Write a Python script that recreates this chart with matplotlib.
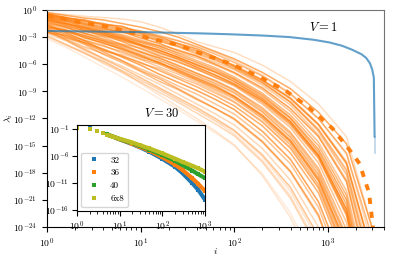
"""Eigenvalue spectra, V = 30 runs vs V = 1, with an inset of the size scan."""

import numpy as np
import matplotlib
matplotlib.use("Agg")
import matplotlib.pyplot as plt
from matplotlib.ticker import NullLocator

plt.rcParams.update({
    "font.family": "serif",
    "font.serif": ["cmr10"],
    "mathtext.fontset": "cm",
    "axes.formatter.use_mathtext": True,
    "font.size": 7,
})

# ── data (log10 of i and of lambda) ──────────────────────────────────────────
knot_logi = [0, 0.2, 0.4, 0.6, 0.8, 1.0, 1.2, 1.4, 1.6, 1.8, 2.0, 2.3, 2.6, 2.9, 3.2, 3.5]

runs_v30 = [
    [-0.3, -0.5, -0.7, -0.85, -1.0, -1.3, -1.9, -2.7, -3.5, -4.1, -4.7, -6.1, -7.9, -10.4, -14.0, -25],
    [-0.3, -0.6, -0.9, -1.1, -1.5, -1.9, -2.4, -3.0, -3.8, -4.6, -5.4, -6.9, -8.7, -11.3, -14.8, -25],
    [-0.5, -0.8, -1.3, -1.5, -2.0, -2.3, -2.9, -3.4, -4.1, -4.9, -5.8, -7.3, -9.3, -12.0, -15.9, -26],
    [-0.4, -0.9, -1.1, -1.6, -1.8, -2.5, -3.0, -3.7, -4.3, -5.2, -6.2, -7.8, -9.8, -12.7, -17.0, -28],
    [-0.9, -1.2, -1.5, -2.0, -2.5, -2.8, -3.5, -4.0, -4.8, -5.5, -6.5, -8.1, -10.2, -13.2, -17.8, -30],
    [-0.7, -1.0, -1.6, -2.1, -2.4, -3.1, -3.7, -4.5, -5.1, -6.0, -6.9, -8.6, -10.9, -14.0, -19.0, -32],
    [-1.2, -1.5, -1.9, -2.4, -2.9, -3.5, -4.0, -4.8, -5.6, -6.4, -7.4, -9.2, -11.6, -15.0, -20.5, -34],
    [-1.0, -1.5, -2.0, -2.6, -3.1, -3.8, -4.5, -5.2, -6.1, -6.9, -7.9, -9.8, -12.3, -16.0, -22.0, -36],
    [-1.5, -1.9, -2.6, -3.0, -3.8, -4.2, -5.0, -5.8, -6.5, -7.5, -8.4, -10.4, -13.0, -16.9, -23.5, -38],
    [-0.8, -1.4, -2.2, -2.7, -3.5, -4.3, -5.1, -5.7, -6.6, -7.4, -8.3, -10.2, -12.7, -16.4, -22.7, -37],
    [-2.0, -2.3, -2.8, -3.4, -3.9, -4.7, -5.3, -6.2, -7.0, -7.9, -8.9, -11.0, -13.7, -17.8, -25.0, -40],
    [-1.8, -2.4, -3.0, -3.7, -4.3, -5.0, -5.9, -6.6, -7.5, -8.4, -9.5, -11.6, -14.4, -18.6, -26.0, -42],
    [-1.3, -2.0, -2.5, -3.3, -4.0, -4.6, -5.5, -6.4, -7.2, -8.1, -9.1, -11.2, -14.0, -18.1, -25.5, -41],
    [-2.5, -2.8, -3.4, -4.0, -4.6, -5.4, -6.0, -6.9, -7.8, -8.8, -9.8, -12.0, -14.9, -19.3, -27.0, -44],
    [-0.6, -1.1, -1.7, -2.3, -2.8, -3.4, -4.0, -4.7, -5.3, -6.1, -7.0, -8.8, -11.2, -14.6, -20.0, -33],
    [-2.2, -2.9, -3.6, -4.3, -5.1, -5.8, -6.7, -7.6, -8.5, -9.5, -10.6, -12.8, -15.8, -20.2, -28.0, -46],
    [-2.4, -3.2, -4.1, -4.8, -5.6, -6.5, -7.4, -8.4, -9.3, -10.4, -11.5, -13.9, -17.0, -21.8, -30.0, -48],
    [-1.6, -2.5, -3.4, -4.4, -5.2, -6.1, -7.1, -8.0, -8.9, -9.9, -11.0, -13.4, -16.5, -21.2, -29.0, -47],
    [-2.1, -3.0, -3.8, -4.9, -5.8, -6.8, -7.9, -8.8, -9.9, -10.9, -12.1, -14.6, -17.9, -22.8, -31.0, -50],
    [-2.6, -3.4, -4.4, -5.3, -6.2, -7.2, -8.2, -9.3, -10.4, -11.5, -12.7, -15.3, -18.8, -24.0, -33.0, -52],
    [-2.0, -2.7, -3.7, -4.6, -5.6, -6.7, -7.6, -8.7, -9.8, -10.9, -12.0, -14.5, -17.8, -22.6, -31.0, -50],
    [-3.0, -3.9, -4.8, -5.7, -6.7, -7.7, -8.8, -9.9, -11.0, -12.2, -13.4, -16.2, -20.0, -25.5, -35.0, -55],
    [-2.3, -3.3, -4.3, -5.4, -6.4, -7.5, -8.6, -9.7, -10.8, -12.0, -13.3, -16.0, -19.6, -25.0, -34.0, -54],
    [-2.8, -3.8, -4.7, -5.9, -6.9, -8.0, -9.1, -10.2, -11.4, -12.6, -13.9, -16.8, -20.8, -26.5, -36.0, -56],
    [-3.2, -4.1, -5.2, -6.3, -7.4, -8.6, -9.8, -11.0, -12.3, -13.6, -15.0, -18.1, -22.4, -28.6, -39.0, -58],
    [-2.5, -3.3, -4.5, -5.6, -6.8, -8.1, -9.4, -10.7, -12.0, -13.4, -14.9, -18.3, -22.9, -29.5, -40.0, -60],
    [-0.5, -1.0, -1.4, -1.9, -2.3, -2.9, -3.3, -4.0, -4.6, -5.4, -6.3, -8.0, -10.2, -13.4, -18.2, -30],
    [-1.1, -1.7, -2.3, -2.8, -3.2, -3.9, -4.7, -5.4, -6.3, -7.2, -8.2, -10.0, -12.5, -16.2, -22.5, -37],
    [-2.4, -3.1, -3.6, -4.5, -5.0, -5.9, -6.5, -7.4, -8.2, -9.2, -10.2, -12.4, -15.3, -19.7, -27.5, -45],
    [-1.9, -2.2, -3.1, -3.6, -4.4, -5.2, -5.8, -6.8, -7.7, -8.6, -9.6, -11.8, -14.6, -18.9, -26.5, -43],
    [-2.9, -3.8, -4.8, -5.7, -6.7, -7.8, -8.8, -10.0, -11.1, -12.3, -13.7, -16.6, -20.5, -26.2, -36.0, -56],
    [-0.9, -1.3, -1.8, -2.2, -2.7, -3.3, -3.9, -4.4, -5.1, -5.8, -6.6, -8.3, -10.5, -13.8, -18.8, -31],
    [-0.6, -0.9, -1.2, -1.7, -2.1, -2.6, -3.2, -3.8, -4.5, -5.3, -6.1, -7.7, -9.7, -12.6, -16.8, -28],
    [-1.4, -1.8, -2.3, -2.9, -3.4, -4.0, -4.8, -5.5, -6.4, -7.2, -8.1, -10.0, -12.4, -16.1, -22.2, -36],
    [-0.8, -1.2, -1.9, -2.4, -3.0, -3.6, -4.2, -5.0, -5.8, -6.6, -7.6, -9.4, -11.9, -15.4, -21.0, -35],
    [-1.7, -2.3, -2.8, -3.5, -4.1, -4.9, -5.6, -6.4, -7.3, -8.2, -9.2, -11.3, -14.1, -18.3, -25.2, -41],
    [-0.4, -0.8, -1.2, -1.5, -1.9, -2.4, -2.8, -3.4, -4.0, -4.7, -5.6, -7.2, -9.2, -12.0, -15.8, -27],
    [-1.0, -1.6, -2.1, -2.5, -3.3, -3.9, -4.4, -5.3, -6.0, -6.8, -7.7, -9.6, -12.0, -15.7, -21.5, -35],
    [-2.2, -2.6, -3.3, -3.9, -4.8, -5.5, -6.3, -7.1, -8.0, -9.0, -10.1, -12.3, -15.2, -19.6, -27.2, -44],
    [-1.2, -1.9, -2.6, -3.2, -3.8, -4.6, -5.3, -6.1, -7.0, -7.8, -8.8, -10.8, -13.5, -17.5, -24.3, -39],
    [-0.7, -1.1, -1.5, -1.8, -2.2, -2.7, -3.4, -4.1, -4.9, -5.6, -6.4, -8.0, -10.1, -13.2, -17.6, -29],
    [-1.5, -2.2, -2.9, -3.4, -4.2, -5.1, -5.8, -6.7, -7.6, -8.5, -9.6, -11.7, -14.5, -18.8, -26.0, -42],
]
runs_alpha = [0.25, 0.65, 0.5, 0.75, 0.45, 0.7, 0.55, 0.8, 0.45, 0.6, 0.5, 0.7, 0.4,
              0.55, 0.45, 0.6, 0.45, 0.7, 0.5, 0.3, 0.55, 0.2, 0.45, 0.3, 0.15, 0.2,
              0.5, 0.7, 0.45, 0.6, 0.2, 0.4, 0.55, 0.5, 0.65, 0.45, 0.3, 0.6, 0.4,
              0.55, 0.35, 0.5]

# mean spectrum, V = 30 (dashed)
mean_logi = [0.0, 0.16, 0.31, 0.47, 0.63, 0.79, 0.93, 1.07, 1.25, 1.40, 1.63,
             1.95, 2.27, 2.56, 2.80, 3.05, 3.25, 3.34, 3.44, 3.475, 3.50]
mean_loglam = [-0.63, -0.92, -1.29, -1.55, -1.85, -2.21, -2.58, -3.06, -3.5, -3.87, -4.76,
               -5.9, -7.4, -9.0, -10.8, -13.1, -15.7, -17.0, -20.2, -23.3, -26.0]

# V = 1
v1_logi = [0.0, 1.0, 1.63, 1.95, 2.3, 2.59, 2.85, 3.02, 3.15, 3.26, 3.36, 3.41, 3.45,
           3.475, 3.492, 3.50]
v1_loglam = [-2.33, -2.45, -2.59, -2.69, -2.83, -3.0, -3.3, -3.6, -3.95, -4.4, -4.9,
             -5.3, -5.9, -6.6, -7.5, -14.0]
v1_tail = [-14.0, -15.8]

# inset: system sizes
ins_i = [1, 2, 3, 4, 5, 7, 10, 20, 30, 50, 100, 200, 300, 500, 700, 1000]
ins_labels = ["32", "36", "40", "6x8"]
ins_colors = ["C0", "C1", "C2", "C8"]
ins_loglam = [
    [-0.8, -0.8, -1.3, -1.7, -2.0, -2.4, -2.9, -3.8, -4.4, -5.2, -6.5, -8.0, -9.2, -11.0, -12.3, -14.1],
    [-0.8, -0.9, -1.3, -1.7, -2.0, -2.4, -2.9, -3.7, -4.3, -5.0, -6.2, -7.6, -8.6, -10.1, -11.2, -12.5],
    [-0.8, -0.9, -1.35, -1.7, -2.0, -2.4, -2.85, -3.6, -4.1, -4.8, -5.8, -6.9, -7.7, -8.7, -9.4, -10.1],
    [-0.8, -1.0, -1.4, -1.75, -2.05, -2.4, -2.8, -3.5, -4.0, -4.6, -5.5, -6.5, -7.1, -7.8, -8.3, -8.9],
]

fig = plt.figure(figsize=(3.94, 2.61), dpi=100)
ax = fig.add_axes([0.119, 0.130, 0.856, 0.832])

ki = 10.0 ** np.array(knot_logi)
for run, a in zip(runs_v30, runs_alpha):
    ax.plot(ki, 10.0 ** np.array(run), color="C1", alpha=a, lw=1.1)

ax.plot(10.0 ** np.array(mean_logi), 10.0 ** np.array(mean_loglam),
        color="C1", lw=2.8, dashes=(1.6, 2.0))

v1_i = 10.0 ** np.array(v1_logi)
ax.plot(v1_i, 10.0 ** np.array(v1_loglam), color="C0", alpha=0.7, lw=1.5)
ax.plot([v1_i[-1]] * 2, 10.0 ** np.array(v1_tail), color="C0", alpha=0.3, lw=1.2)

ax.set_xscale("log")
ax.set_yscale("log")
ax.set_xlim(1, 4000)
ax.set_ylim(1e-24, 1)
ax.set_yticks([10.0 ** k for k in range(0, -25, -3)])
ax.yaxis.set_minor_locator(NullLocator())
ax.set_xlabel("$i$", labelpad=-3)
ax.set_ylabel(r"$\lambda_i$", labelpad=-1)
for side in ("top", "right"):
    ax.spines[side].set_color("0.45")
ax.text(0.819, 0.917, "$V = 1$", transform=ax.transAxes, fontsize=9,
        ha="center", va="center")
ax.text(0.341, 0.525, "$V = 30$", transform=ax.transAxes, fontsize=9,
        ha="center", va="center")

# ── inset ───────────────────────────────────────────────────────────────────
axi = fig.add_axes([0.195, 0.190, 0.325, 0.331])
ii = np.array(ins_i)
for lab, c, vals in zip(ins_labels, ins_colors, ins_loglam):
    lam = 10.0 ** np.array(vals)
    axi.plot(ii[4:], lam[4:], color=c, lw=3.0, solid_capstyle="butt")
    axi.plot(ii, lam, "s", color=c, ms=2.2, mew=0, label=lab)

axi.set_xscale("log")
axi.set_yscale("log")
axi.set_xlim(1, 1000)
axi.set_ylim(10 ** -16.3, 10 ** -0.25)
axi.set_yticks([1e-1, 1e-6, 1e-11, 1e-16])
axi.yaxis.set_minor_locator(NullLocator())
axi.tick_params(labelsize=7, pad=2)
axi.legend(loc="lower left", fontsize=6.5, numpoints=1, handlelength=2.0,
           borderaxespad=0.5)

fig.savefig("out.png", dpi=100)
